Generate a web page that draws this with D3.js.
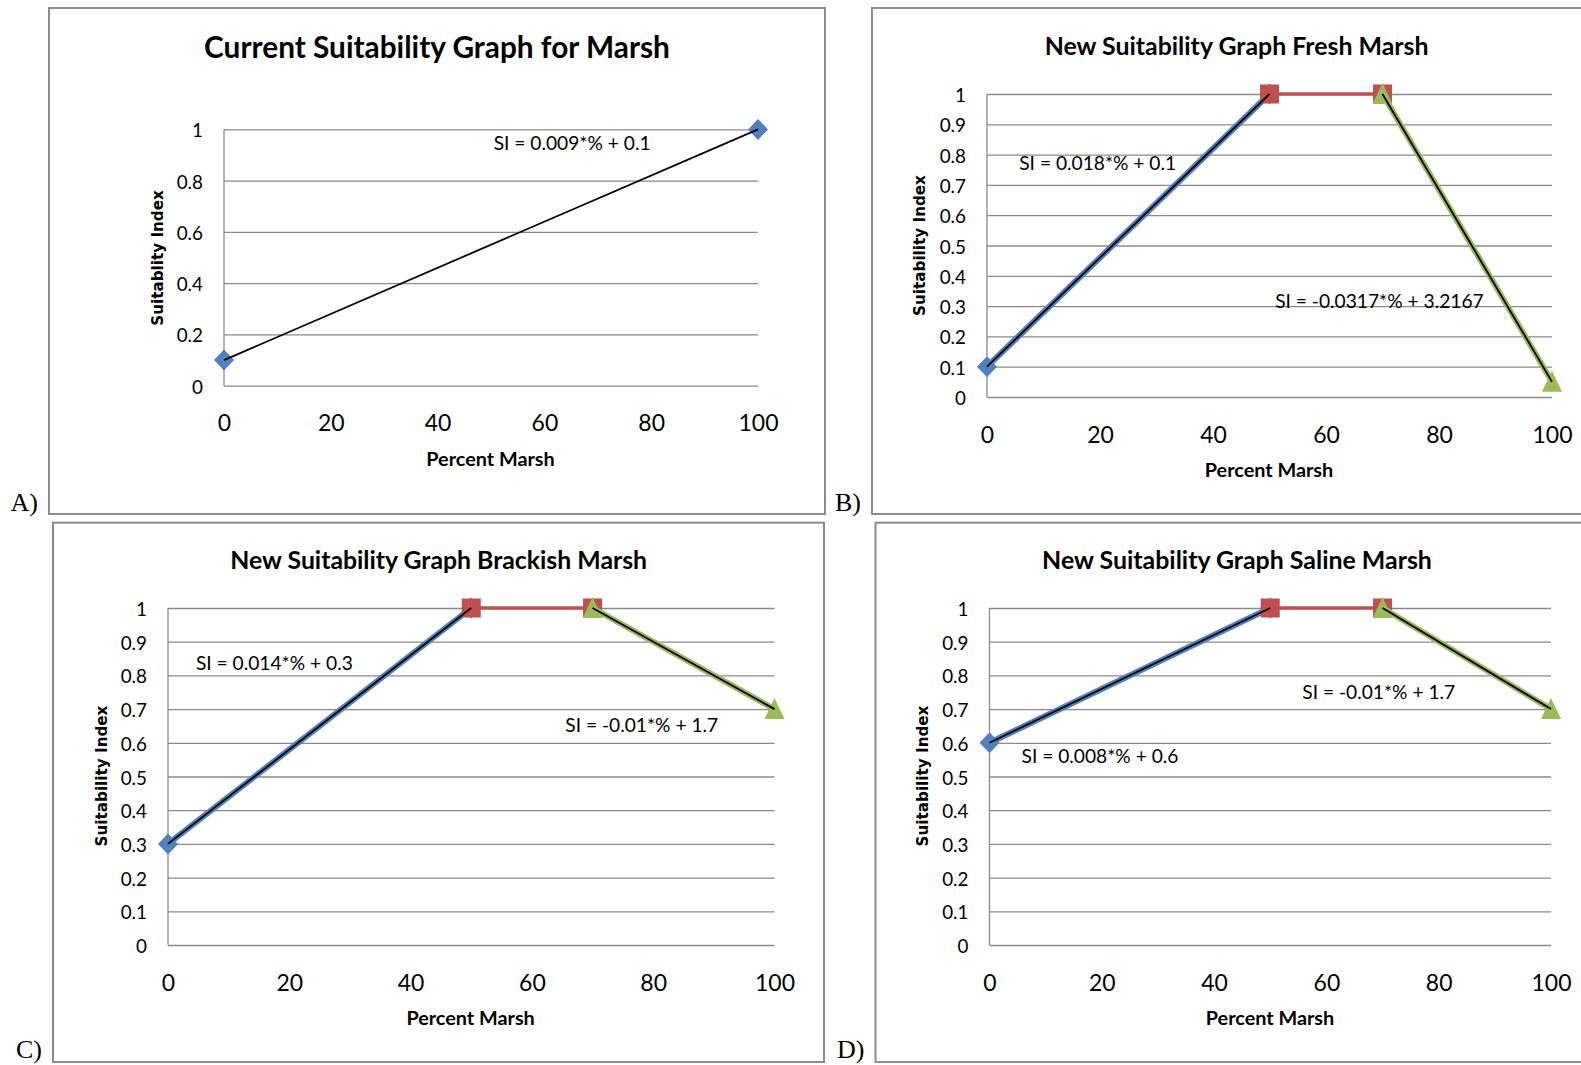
<!DOCTYPE html>
<html>
<head>
<meta charset="utf-8">
<script src="https://cdn.jsdelivr.net/npm/d3@7"></script>
<style>
  html, body { margin: 0; padding: 0; background: #fff; }
  svg { display: block; }
</style>
</head>
<body>
<script>
// ---------------- DATA ----------------
const panelLetters = ["A)", "B)", "C)", "D)"];
const panelTitles = [
  "Current Suitability Graph for Marsh",
  "New Suitability Graph Fresh Marsh",
  "New Suitability Graph Brackish Marsh",
  "New Suitability Graph Saline Marsh"
];
const xAxisTitle = "Percent Marsh";
const yAxisTitles = ["Suitablity Index", "Suitability Index", "Suitability Index", "Suitability Index"];

const xTickValues = [0, 20, 40, 60, 80, 100];
const xTickLabels = ["0", "20", "40", "60", "80", "100"];
const yTickValuesCurrent = [0, 0.2, 0.4, 0.6, 0.8, 1];
const yTickLabelsCurrent = ["0", "0.2", "0.4", "0.6", "0.8", "1"];
const yTickValuesNew = [0, 0.1, 0.2, 0.3, 0.4, 0.5, 0.6, 0.7, 0.8, 0.9, 1];
const yTickLabelsNew = ["0", "0.1", "0.2", "0.3", "0.4", "0.5", "0.6", "0.7", "0.8", "0.9", "1"];

// Panel A: current suitability (two points + linear trend)
const currentX = [0, 100];
const currentSI = [0.1, 1];

// Shared x for the three segments of the new graphs
const rampUpX = [0, 50];
const plateauX = [50, 70];
const rampDownX = [70, 100];

// Fresh marsh
const freshUp = [0.1, 1];
const freshPlateau = [1, 1];
const freshDown = [1, 0.05];
// Brackish marsh
const brackishUp = [0.3, 1];
const brackishPlateau = [1, 1];
const brackishDown = [1, 0.7];
// Saline marsh
const salineUp = [0.6, 1];
const salinePlateau = [1, 1];
const salineDown = [1, 0.7];

// Trendline equation labels
const equationsCurrent = ["SI = 0.009*% + 0.1"];
const equationsFresh = ["SI = 0.018*% + 0.1", "SI = -0.0317*% + 3.2167"];
const equationsBrackish = ["SI = 0.014*% + 0.3", "SI = -0.01*% + 1.7"];
const equationsSaline = ["SI = 0.008*% + 0.6", "SI = -0.01*% + 1.7"];

// ---------------- STYLE ----------------
const COLORS = { blue: "#4F81BD", red: "#C0504D", green: "#9BBB59", grid: "#8a8a8a", border: "#8c8c8c" };
const W = 1581, H = 1065;

const svg = d3.select("body").append("svg").attr("width", W).attr("height", H);
svg.append("rect").attr("width", W).attr("height", H).attr("fill", "#fff");

function sizeFor(text, family, weight, target) {
  const t = svg.append("text").attr("font-family", family).attr("font-weight", weight)
    .attr("font-size", 100).text(text);
  const w = t.node().getComputedTextLength();
  t.remove();
  return 100 * target / w;
}
const CAL = "Lato, 'Open Sans', sans-serif";
const fsXTick = sizeFor("100", CAL, 400, 40);
const fsYTick = sizeFor("0.9", CAL, 400, 26.3);
const fsEq = sizeFor("SI = 0.009*% + 0.1", CAL, 400, 157);
const fsXTitle = sizeFor(xAxisTitle, CAL, 700, 128.5);
const fsYTitle = sizeFor("Suitability Index", "'DejaVu Sans'", 700, 141);

// ---------------- LAYOUT ----------------
const panels = [
  { box: [49, 8, 825, 514], plot: [224, 758, 129.4, 385.7], title: [437, 58, 466],
    xt: [490.5, 465.5], yt: [157.6, 258], letter: [10.5, 511],
    yVals: yTickValuesCurrent, yLabs: yTickLabelsCurrent,
    segments: [], currentPts: true,
    eqs: equationsCurrent, eqPos: [[50.5, 0.945]] },
  { box: [872, 8, 1600, 514], plot: [987, 1552, 94, 397], title: [1236.6, 54.5, 384],
    xt: [1269, 477], yt: [920, 245.5], letter: [835, 511],
    yVals: yTickValuesNew, yLabs: yTickLabelsNew,
    segments: [[rampUpX, freshUp], [plateauX, freshPlateau], [rampDownX, freshDown]],
    eqs: equationsFresh, eqPos: [[5.7, 0.771], [51, 0.315]] },
  { box: [53, 522.7, 824, 1062], plot: [168, 774.5, 608, 945], title: [438.7, 568.5, 417],
    xt: [470.6, 1024.5], yt: [102, 776], letter: [16, 1058],
    yVals: yTickValuesNew, yLabs: yTickLabelsNew,
    segments: [[rampUpX, brackishUp], [plateauX, brackishPlateau], [rampDownX, brackishDown]],
    eqs: equationsBrackish, eqPos: [[4.6, 0.837], [65.5, 0.653]] },
  { box: [875.5, 522.7, 1600, 1062], plot: [989.5, 1551, 608, 945], title: [1237, 568.5, 390],
    xt: [1270, 1024.5], yt: [923, 776], letter: [837, 1058],
    yVals: yTickValuesNew, yLabs: yTickLabelsNew,
    segments: [[rampUpX, salineUp], [plateauX, salinePlateau], [rampDownX, salineDown]],
    eqs: equationsSaline, eqPos: [[5.7, 0.559], [55.7, 0.751]] }
];

const segColors = [COLORS.blue, COLORS.red, COLORS.green];

function marker(g, type, color, cx, cy) {
  if (type === 0) { // diamond
    g.append("path").attr("d", `M${cx},${cy-10.5}L${cx+10},${cy}L${cx},${cy+10.5}L${cx-10},${cy}Z`).attr("fill", color);
  } else if (type === 1) { // square
    g.append("rect").attr("x", cx - 9.5).attr("y", cy - 9.5).attr("width", 19).attr("height", 19).attr("fill", color);
  } else { // triangle
    g.append("path").attr("d", `M${cx},${cy-11}L${cx+10},${cy+10}L${cx-10},${cy+10}Z`).attr("fill", color);
  }
}

panels.forEach((p, i) => {
  const g = svg.append("g");
  const [bx0, by0, bx1, by1] = p.box;
  g.append("rect").attr("x", bx0).attr("y", by0).attr("width", bx1 - bx0).attr("height", by1 - by0)
    .attr("fill", "none").attr("stroke", COLORS.border).attr("stroke-width", 2);

  // panel letter
  svg.append("text").attr("x", p.letter[0]).attr("y", p.letter[1])
    .attr("font-family", "'Liberation Serif', 'Times New Roman', serif").attr("font-size", 26)
    .attr("fill", "#000").text(panelLetters[i]);

  const [x0, x1, yTop, yBot] = p.plot;
  const x = d3.scaleLinear().domain([0, 100]).range([x0, x1]);
  const y = d3.scaleLinear().domain([0, 1]).range([yBot, yTop]);

  // gridlines
  const grid = g.append("g").attr("transform", `translate(${x0},0)`)
    .call(d3.axisLeft(y).tickValues(p.yVals).tickSize(-(x1 - x0)).tickFormat(""));
  grid.select(".domain").remove();
  grid.selectAll("line").attr("stroke", COLORS.grid).attr("stroke-width", 1.3);

  // vertical axis line
  g.append("line").attr("x1", x0).attr("x2", x0).attr("y1", y(0)).attr("y2", y(1))
    .attr("stroke", COLORS.grid).attr("stroke-width", 1.3);

  // y tick labels
  const ya = g.append("g").attr("transform", `translate(${x0},0)`)
    .call(d3.axisLeft(y).tickValues(p.yVals).tickSize(0).tickPadding(21)
      .tickFormat((d, k) => p.yLabs[k]));
  ya.select(".domain").remove();
  ya.attr("font-family", CAL).attr("font-size", fsYTick);
  ya.selectAll("text").attr("fill", "#000").attr("dy", "0.4em");

  // x tick labels
  const xa = g.append("g").attr("transform", `translate(0,${yBot})`)
    .call(d3.axisBottom(x).tickValues(xTickValues).tickSize(0)
      .tickFormat((d, k) => xTickLabels[k]));
  xa.select(".domain").remove();
  xa.attr("font-family", CAL).attr("font-size", fsXTick);
  xa.selectAll("text").attr("fill", "#000").attr("y", 45.5).attr("dy", 0);

  // title
  const fsT = sizeFor(panelTitles[i], CAL, 700, p.title[2]);
  g.append("text").attr("x", p.title[0]).attr("y", p.title[1]).attr("text-anchor", "middle")
    .attr("font-family", CAL).attr("font-weight", 700).attr("font-size", fsT)
    .attr("fill", "#000").text(panelTitles[i]);

  // axis titles
  g.append("text").attr("x", p.xt[0]).attr("y", p.xt[1]).attr("text-anchor", "middle")
    .attr("font-family", CAL).attr("font-weight", 700).attr("font-size", fsXTitle)
    .attr("fill", "#000").text(xAxisTitle);
  g.append("text").attr("transform", `translate(${p.yt[0]},${p.yt[1]}) rotate(-90)`)
    .attr("text-anchor", "middle").attr("dominant-baseline", "central")
    .attr("font-family", "'DejaVu Sans', sans-serif").attr("font-weight", 700).attr("font-size", fsYTitle)
    .attr("fill", "#000").text(yAxisTitles[i]);

  const line = d3.line().x(d => x(d[0])).y(d => y(d[1]));
  const marks = g.append("g");
  const trends = g.append("g");

  if (p.currentPts) {
    const pts = currentX.map((v, k) => [v, currentSI[k]]);
    pts.forEach(d => marker(marks, 0, COLORS.blue, x(d[0]), y(d[1])));
    trends.append("path").attr("d", line(pts)).attr("fill", "none")
      .attr("stroke", "#000").attr("stroke-width", 1.8);
  } else {
    p.segments.forEach((s, k) => {
      const pts = s[0].map((v, j) => [v, s[1][j]]);
      marks.append("path").attr("d", line(pts)).attr("fill", "none")
        .attr("stroke", segColors[k]).attr("stroke-width", k === 1 ? 3.5 : 6);
      pts.forEach(d => marker(marks, k, segColors[k], x(d[0]), y(d[1])));
      if (k !== 1) {
        trends.append("path").attr("d", line(pts)).attr("fill", "none")
          .attr("stroke", "#000").attr("stroke-width", 1.8);
      }
    });
  }

  // equations
  p.eqs.forEach((t, k) => {
    g.append("text").attr("x", x(p.eqPos[k][0])).attr("y", y(p.eqPos[k][1]))
      .attr("dy", "0.35em").attr("font-family", CAL).attr("font-size", fsEq)
      .attr("fill", "#000").text(t);
  });
});
</script>
</body>
</html>
